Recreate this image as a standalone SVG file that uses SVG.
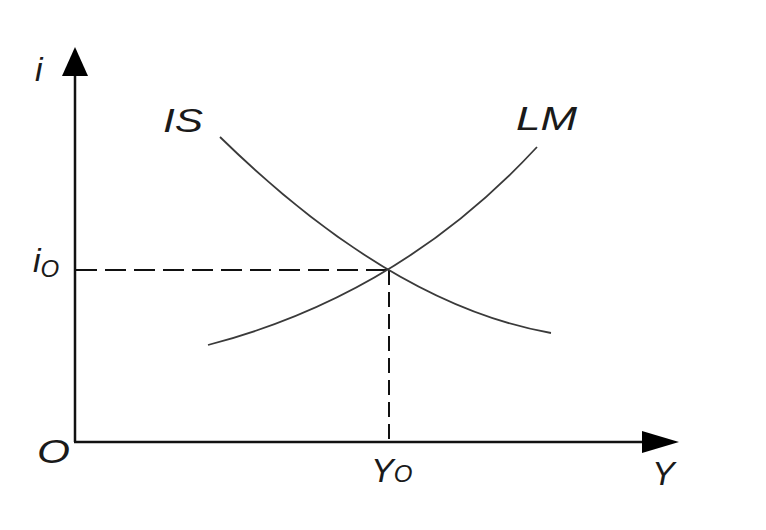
<svg xmlns="http://www.w3.org/2000/svg" width="766" height="530" viewBox="0 0 766 530">
<style>
.lbl{font-family:"Liberation Sans",Arial,sans-serif;font-style:italic;fill:#1a1a1a;font-size:34px}
.sub{font-size:24px}
.axis{stroke:#111;stroke-width:2.5;fill:none}
.curve{stroke:#3a3a3a;stroke-width:1.8;fill:none}
.dash{stroke:#111;stroke-width:2;fill:none}
</style>
<rect width="766" height="530" fill="#fff"/>
<g id="axes">
<line class="axis" x1="75" y1="442" x2="75" y2="70"/>
<polygon points="75,47 62,76 88,76" fill="#000"/>
<line class="axis" x1="74" y1="442" x2="650" y2="442"/>
<polygon points="679,442 642,431 642,453" fill="#000"/>
</g>
<g id="connectors">
<line class="dash" x1="76" y1="270" x2="389" y2="270" stroke-dasharray="21,8"/>
<line class="dash" x1="389" y1="270" x2="389" y2="441" stroke-dasharray="15,7"/>
</g>
<g id="IS">
<path class="curve" d="M220,137 Q392,305 551,333"/>
<text class="lbl" x="163" y="132" textLength="40" lengthAdjust="spacingAndGlyphs">IS</text>
</g>
<g id="LM">
<path class="curve" d="M208,345 Q400,295 537,147"/>
<text class="lbl" x="516" y="130" textLength="61" lengthAdjust="spacingAndGlyphs">LM</text>
</g>
<g id="labels">
<text class="lbl" x="35" y="81">i</text>
<text class="lbl" x="33" y="272">i<tspan class="sub" dy="5">O</tspan></text>
<text class="lbl" x="37" y="463" textLength="33" lengthAdjust="spacingAndGlyphs">O</text>
<text class="lbl" x="371" y="482">Y<tspan class="sub">O</tspan></text>
<text class="lbl" x="652" y="485">Y</text>
</g>
</svg>
